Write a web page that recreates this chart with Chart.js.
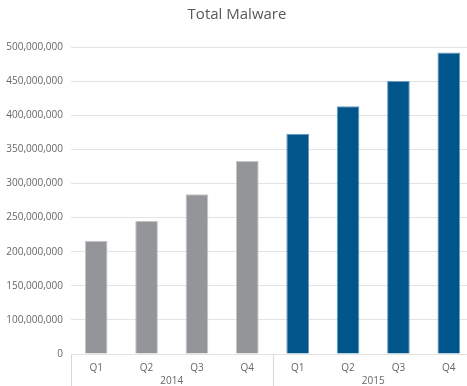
<!DOCTYPE html>
<html lang="en">
<head>
    <meta charset="UTF-8">
    <meta name="viewport" content="width=device-width, initial-scale=1.0">
    <title>Total Malware</title>
    <style>
        html, body { margin: 0; padding: 0; background: #fff; overflow: hidden; }
        #contenedor { width: 474px; height: 386px; }
    </style>
</head>
<body>
    <div id="contenedor"><canvas id="grafico" width="474" height="386"></canvas></div>
</body>
<script src="https://cdn.jsdelivr.net/npm/chart.js@4.4.0/dist/chart.umd.min.js"></script>
<script>
    // trimestres y años del eje x
    var trimestres = ['Q1', 'Q2', 'Q3', 'Q4', 'Q1', 'Q2', 'Q3', 'Q4'];
    var anios = ['2014', '2015'];

    // altura de las barras en unidades de la escala (pasos de 50M)
    var valores2014 = [166000000, 195000000, 234000000, 283000000];
    var valores2015 = [323000000, 363000000, 400000000, 442000000];

    // etiquetas que se ven en el eje y, una por linea de la cuadricula
    var etiquetasY = ['0', '100,000,000', '150,000,000', '200,000,000', '250,000,000',
                      '300,000,000', '350,000,000', '400,000,000', '450,000,000', '500,000,000'];

    var gris = '#939598';
    var azul = '#00558b';

    var colores = [];
    var bordes = [];
    valores2014.forEach(function(){ colores.push(gris); bordes.push('#c4c5c7'); });
    valores2015.forEach(function(){ colores.push(azul); bordes.push('#6b9bbd'); });

    // lineas verticales que separan cada año debajo del eje
    var separadores = {
        id: 'separadores',
        afterDraw: function(chart) {
            var x = chart.scales.x;
            var ctx = chart.ctx;
            var area = chart.chartArea;
            var paso = x.getPixelForValue(1) - x.getPixelForValue(0);
            var porAnio = trimestres.length / anios.length;
            ctx.save();
            ctx.strokeStyle = '#d9d9d9';
            ctx.lineWidth = 1;
            for (var i = 0; i <= anios.length; i++) {
                var px = Math.round(x.getPixelForValue(i * porAnio) - paso / 2) + 0.5;
                ctx.beginPath();
                ctx.moveTo(px, area.bottom);
                ctx.lineTo(px, chart.height);
                ctx.stroke();
            }
            ctx.restore();
        }
    };

    var fuente = "'Open Sans', 'Noto Sans', sans-serif";

    var ctx = document.getElementById('grafico').getContext('2d');
    var grafico = new Chart(ctx, {
        type: 'bar',
        data: {
            labels: trimestres,
            datasets: [{
                label: 'Total Malware',
                data: valores2014.concat(valores2015),
                backgroundColor: colores,
                borderColor: bordes,
                borderWidth: 1,
                categoryPercentage: 1,
                barPercentage: 0.45
            }]
        },
        options: {
            responsive: false,
            animation: false,
            layout: { padding: { top: 0, right: 0, bottom: 0, left: 0 } },
            plugins: {
                legend: { display: false },
                tooltip: { enabled: false },
                title: {
                    display: true,
                    text: 'Total Malware',
                    color: '#595959',
                    font: { family: fuente, size: 15, weight: 'normal' },
                    padding: { top: 6, bottom: 23 }
                }
            },
            scales: {
                x: {
                    grid: { display: false, drawTicks: false },
                    border: { display: false },
                    ticks: {
                        color: '#666',
                        font: { family: fuente, size: 10 },
                        padding: 8,
                        maxRotation: 0
                    },
                    afterFit: function(scale) { scale.height = 21; }
                },
                x2: {
                    type: 'category',
                    position: 'bottom',
                    labels: anios,
                    offset: true,
                    grid: { display: false, drawTicks: false },
                    border: { display: false },
                    ticks: {
                        color: '#666',
                        font: { family: fuente, size: 10 },
                        padding: 0,
                        maxRotation: 0
                    },
                    afterFit: function(scale) { scale.height = 11; }
                },
                y: {
                    min: 0,
                    max: 450000000,
                    ticks: {
                        stepSize: 50000000,
                        color: '#666',
                        font: { family: fuente, size: 10 },
                        padding: 8,
                        callback: function(valor, indice) { return etiquetasY[indice]; }
                    },
                    grid: { color: '#e3e3e3', drawTicks: false },
                    border: { display: false },
                    afterFit: function(scale) { scale.width = 71; }
                }
            }
        },
        plugins: [separadores]
    });
</script>
</html>
